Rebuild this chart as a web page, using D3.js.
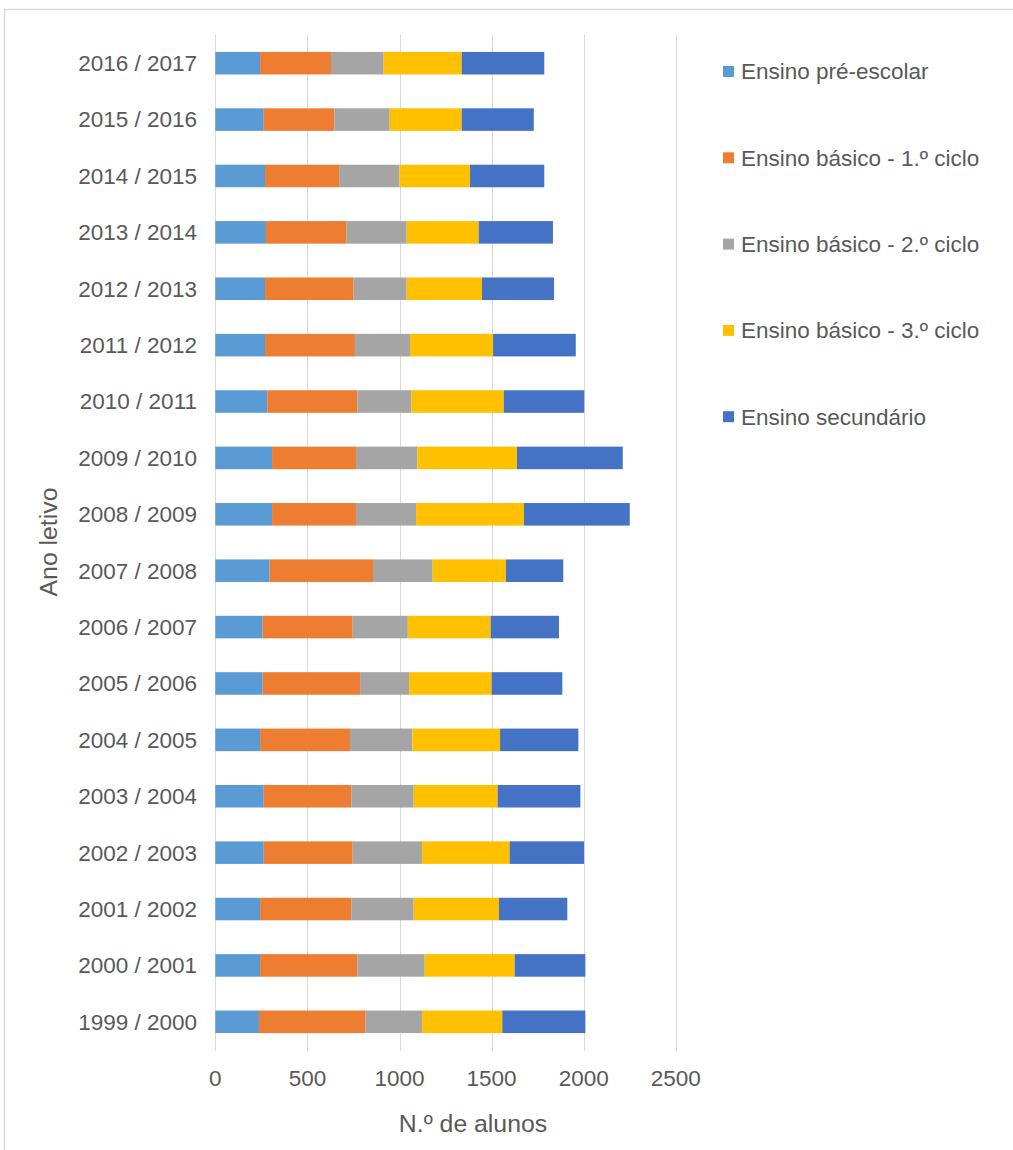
<!DOCTYPE html>
<html>
<head>
<meta charset="utf-8">
<script src="https://cdn.jsdelivr.net/npm/d3@7"></script>
<style>
  body { margin: 0; background: #fff; }
  text { font-family: "Liberation Sans", Arial, sans-serif; fill: #595959; }
</style>
</head>
<body>
<div id="target"></div>
<script>
var WIDTH = 1013;
var HEIGHT = 1150;

// school years, oldest first
var anos = ["1999 / 2000", "2000 / 2001", "2001 / 2002", "2002 / 2003", "2003 / 2004", "2004 / 2005",
  "2005 / 2006", "2006 / 2007", "2007 / 2008", "2008 / 2009", "2009 / 2010", "2010 / 2011",
  "2011 / 2012", "2012 / 2013", "2013 / 2014", "2014 / 2015", "2015 / 2016", "2016 / 2017"];

var preEscolar = [237, 243, 243, 263, 263, 243, 257, 257, 295, 308, 308, 282, 270, 270, 275, 270, 263, 243];
var ciclo1 = [579, 528, 495, 483, 475, 488, 529, 489, 561, 456, 456, 489, 488, 481, 438, 402, 383, 385];
var ciclo2 = [306, 366, 339, 376, 339, 339, 266, 299, 324, 326, 333, 293, 299, 288, 326, 327, 301, 286];
var ciclo3 = [436, 488, 463, 476, 456, 476, 448, 450, 398, 586, 541, 502, 451, 409, 391, 384, 391, 424];
var secundario = [451, 384, 371, 404, 449, 425, 384, 371, 311, 574, 574, 437, 449, 391, 403, 403, 391, 448];

var seriesNames = ["Ensino pré-escolar", "Ensino básico - 1.º ciclo", "Ensino básico - 2.º ciclo",
  "Ensino básico - 3.º ciclo", "Ensino secundário"];
var seriesColors = ["#5B9BD5", "#ED7D31", "#A5A5A5", "#FFC000", "#4472C4"];
var xTicks = [0, 500, 1000, 1500, 2000, 2500];

var seriesData = [preEscolar, ciclo1, ciclo2, ciclo3, secundario];

// build rows for d3.stack
var rows = anos.map(function(a, i) {
  var r = { ano: a };
  seriesNames.forEach(function(s, j) { r[s] = seriesData[j][i]; });
  return r;
});

var LABEL_SIZE = 22.5;
var TITLE_SIZE = 24.8;

var svg = d3.select("#target").append("svg").attr("width", WIDTH).attr("height", HEIGHT);

// outer chart border
svg.append("rect")
  .attr("x", 4.5).attr("y", 9.5)
  .attr("width", WIDTH + 20).attr("height", HEIGHT + 20)
  .attr("fill", "none").attr("stroke", "#d9d9d9").attr("stroke-width", 1.5);

var x = d3.scaleLinear().domain([0, 2500]).range([215.3, 675.8]);
var y = d3.scaleBand()
  .domain(anos.slice().reverse())
  .range([35, 1050])
  .paddingInner(0.6)
  .paddingOuter(0.3);

// vertical gridlines
svg.append("g").selectAll("line")
  .data(xTicks)
  .enter()
  .append("line")
  .attr("x1", function(d) { return Math.round(x(d)) + 0.5; })
  .attr("x2", function(d) { return Math.round(x(d)) + 0.5; })
  .attr("y1", 35)
  .attr("y2", 1051)
  .attr("stroke", "#d9d9d9")
  .attr("stroke-width", 1);

var stacked = d3.stack().keys(seriesNames)(rows);

svg.append("g").selectAll("g")
  .data(stacked)
  .enter()
  .append("g")
  .attr("fill", function(d, i) { return seriesColors[i]; })
  .selectAll("rect")
  .data(function(d) { return d; })
  .enter()
  .append("rect")
  .attr("x", function(d) { return x(d[0]); })
  .attr("width", function(d) { return x(d[1]) - x(d[0]); })
  .attr("y", function(d) { return y(d.data.ano); })
  .attr("height", y.bandwidth());

// y axis labels
var yAxis = d3.axisLeft(y).tickSize(0).tickPadding(0);
var yg = svg.append("g").attr("transform", "translate(197,0)").call(yAxis);
yg.select(".domain").remove();
yg.selectAll("text")
  .attr("font-size", LABEL_SIZE)
  .attr("font-family", "Liberation Sans, Arial, sans-serif")
  .attr("fill", "#595959")
  .attr("dy", "0.35em");

// x tick labels
svg.append("g").selectAll("text")
  .data(xTicks)
  .enter()
  .append("text")
  .attr("x", function(d) { return x(d); })
  .attr("y", 1086)
  .attr("text-anchor", "middle")
  .attr("font-size", LABEL_SIZE)
  .text(function(d) { return d; });

// axis titles
svg.append("text")
  .attr("x", 473)
  .attr("y", 1132)
  .attr("text-anchor", "middle")
  .attr("font-size", TITLE_SIZE)
  .text("N.º de alunos");

svg.append("text")
  .attr("transform", "translate(57,542) rotate(-90)")
  .attr("text-anchor", "middle")
  .attr("font-size", TITLE_SIZE)
  .text("Ano letivo");

// legend
var legend = svg.append("g").selectAll("g")
  .data(seriesNames)
  .enter()
  .append("g")
  .attr("transform", function(d, i) { return "translate(723," + (71.5 + i * 86.3) + ")"; });

legend.append("rect")
  .attr("x", 0).attr("y", -5.5)
  .attr("width", 11).attr("height", 11)
  .attr("fill", function(d, i) { return seriesColors[i]; });

legend.append("text")
  .attr("x", 18)
  .attr("dy", "0.35em")
  .attr("font-size", LABEL_SIZE)
  .text(function(d) { return d; });
</script>
</body>
</html>
